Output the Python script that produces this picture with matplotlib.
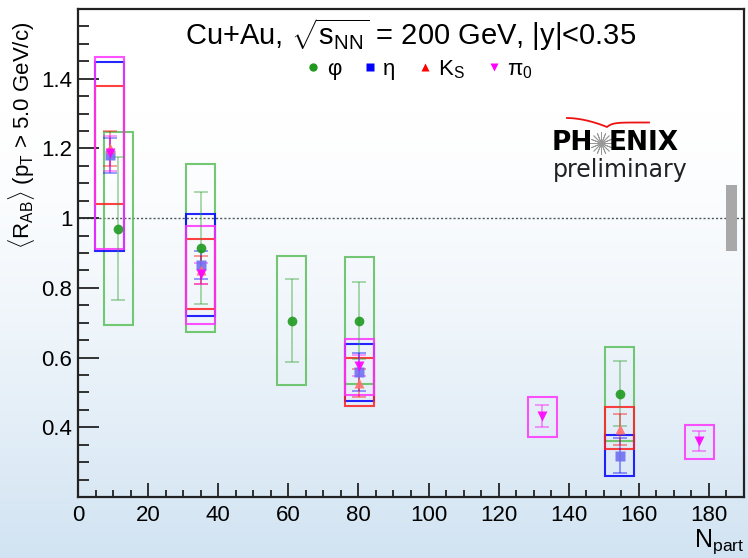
import numpy as np
import matplotlib
matplotlib.use('Agg')
import matplotlib.pyplot as plt
from matplotlib.patches import Rectangle
from matplotlib.lines import Line2D
from matplotlib.ticker import MultipleLocator

plt.rcParams['font.family'] = ['Liberation Sans', 'DejaVu Sans']
plt.rcParams['mathtext.fontset'] = 'custom'
plt.rcParams['mathtext.rm'] = 'Liberation Sans'
plt.rcParams['mathtext.it'] = 'Liberation Sans:italic'
plt.rcParams['mathtext.bf'] = 'Liberation Sans:bold'

# phi
phi_npart = [11.5, 35, 61, 80.3, 154.6]
phi_val = [0.97, 0.915, 0.706, 0.706, 0.496]
phi_stat = [0.205, 0.16, 0.119, 0.11, 0.093]
phi_sys_lo = [0.694, 0.672, 0.52, 0.525, 0.361]
phi_sys_hi = [1.247, 1.154, 0.89, 0.888, 0.631]

# eta
eta_npart = [9.0, 35, 80.3, 154.6]
eta_val = [1.18, 0.866, 0.558, 0.318]
eta_stat = [0.05, 0.04, 0.055, 0.05]
eta_sys_lo = [0.907, 0.718, 0.475, 0.259]
eta_sys_hi = [1.447, 1.011, 0.64, 0.377]

# K_S
ks_npart = [9.0, 35, 80.3, 154.6]
ks_val = [1.20, 0.85, 0.526, 0.394]
ks_stat = [0.05, 0.04, 0.04, 0.045]
ks_sys_lo = [1.04, 0.74, 0.461, 0.337]
ks_sys_hi = [1.38, 0.939, 0.598, 0.458]

# pi0
pi0_npart = [9.0, 35, 80.3, 132.4, 177.2]
pi0_val = [1.186, 0.84, 0.577, 0.433, 0.361]
pi0_stat = [0.05, 0.03, 0.03, 0.031, 0.029]
pi0_sys_lo = [0.911, 0.695, 0.494, 0.372, 0.308]
pi0_sys_hi = [1.462, 0.977, 0.654, 0.487, 0.407]

norm_npart = 186.5
norm_unc = 0.095

box_w = 8.3

fig = plt.figure(figsize=(7.48, 5.58), dpi=100)

# slide background gradient
bg = fig.add_axes([0, 0, 1, 1], zorder=-10)
t = np.linspace(0, 1, 300)
t = np.clip((t - 0.2) / 0.8, 0, 1) ** 1.4
top = np.array([1.0, 1.0, 1.0])
bot = np.array([0.82, 0.89, 0.95])
grad = top[None, :] * (1 - t[:, None]) + bot[None, :] * t[:, None]
bg.imshow(grad[:, None, :], aspect='auto', extent=[0, 1, 0, 1], origin='upper')
bg.axis('off')

ax = fig.add_axes([78/748, 61/558, 666/748, 488/558])
ax.patch.set_alpha(0)

series = [
    (phi_npart, phi_val, phi_stat, phi_sys_lo, phi_sys_hi, '#2ca02c', '#1f9a1f', 'o', 7, '#5cbf5c'),
    (eta_npart, eta_val, eta_stat, eta_sys_lo, eta_sys_hi, '#0000ff', '#7070f0', 's', 6.5, '#0000ff'),
    (ks_npart, ks_val, ks_stat, ks_sys_lo, ks_sys_hi, '#ff0000', '#ff7070', '^', 7.5, '#ff2020'),
    (pi0_npart, pi0_val, pi0_stat, pi0_sys_lo, pi0_sys_hi, '#ff00ff', '#ff00ff', 'v', 7.5, '#ff33ff'),
]

for npart, val, stat, lo, hi, ecol, mcol, mk, ms, bcol in series:
    for x, l, h in zip(npart, lo, hi):
        ax.add_patch(Rectangle((x - box_w/2, l), box_w, h - l, fill=False,
                               edgecolor=bcol, lw=1.5, alpha=0.85, zorder=2))

handles = []
for npart, val, stat, lo, hi, ecol, mcol, mk, ms, bcol in series:
    ax.errorbar(npart, val, yerr=stat, fmt='none', ecolor=ecol, elinewidth=1.2,
                capsize=5, capthick=1.2, alpha=0.45, zorder=3)
    ax.plot(npart, val, ls='none', marker=mk, ms=ms, color=mcol, mec='none',
            alpha=0.9, zorder=4)
    handles.append(Line2D([], [], ls='none', marker=mk, ms=6, color=ecol if mk != 'o' else '#1f9a1f', mec='none'))

# global normalization
ax.add_patch(Rectangle((norm_npart - 1.5, 1 - norm_unc), 3, 2 * norm_unc,
                       facecolor='#a8a8a8', edgecolor='none', zorder=2))

ax.axhline(1, color='#555555', ls=(0, (1.5, 1.5)), lw=1, zorder=1)

ax.set_xlim(0, 190)
ax.set_ylim(0.2, 1.6)
ax.xaxis.set_major_locator(MultipleLocator(20))
ax.xaxis.set_minor_locator(MultipleLocator(5))
ax.yaxis.set_major_locator(MultipleLocator(0.2))
ax.yaxis.set_minor_locator(MultipleLocator(0.05))
ax.set_yticks([0.4, 0.6, 0.8, 1.0, 1.2, 1.4])
ax.set_yticklabels(['0.4', '0.6', '0.8', '1', '1.2', '1.4'])
ax.tick_params(axis='both', which='both', direction='in', top=False, right=False,
               labelsize=16, width=1.3, color='#222222')
ax.tick_params(axis='x', which='major', length=10, pad=6)
ax.tick_params(axis='x', which='minor', length=5)
ax.tick_params(axis='y', which='major', length=15, pad=4)
ax.tick_params(axis='y', which='minor', length=8)
for s in ax.spines.values():
    s.set_linewidth(1.6)
    s.set_color('#222222')

ax.text(0.5, 0.947, r'Cu+Au, $\sqrt{\mathrm{s_{NN}}}$ = 200 GeV, |y|<0.35',
        transform=ax.transAxes, ha='center', va='center', fontsize=21)

ax.legend(handles, ['φ', 'η', r'K$_\mathrm{S}$', r'π$_0$'], ncol=4, loc='center',
          bbox_to_anchor=(0.513, 0.876), frameon=False, fontsize=16,
          handlelength=0.6, handletextpad=0.3, columnspacing=1.0, borderpad=0)

fig.text(22/748, 1 - 135/558, r'$\langle$R$_\mathrm{AB}\rangle$ (p$_\mathrm{T}$ > 5.0 GeV/c)',
         rotation=90, ha='center', va='center', fontsize=16)
fig.text(744/748, 2/558, r'N$_\mathrm{part}$', ha='right', va='bottom', fontsize=18)

# PHENIX logo
fig.text(593/748, 1 - 143/558, 'PH', ha='right', va='center', fontsize=19,
         fontweight='bold', family='DejaVu Sans')
fig.text(609/748, 1 - 143/558, 'ENIX', ha='left', va='center', fontsize=19,
         fontweight='bold', family='DejaVu Sans')
fig.text(620/748, 1 - 170/558, 'preliminary', ha='center', va='center', fontsize=17,
         family='DejaVu Sans', color='#222222')
star = Line2D([601/748], [1 - 143/558], transform=fig.transFigure, marker=(16, 2, 0),
              ms=16, mew=0.6, color='#999999')
fig.add_artist(star)
left_x = np.linspace(567, 607, 30)
left_y = 118 + 9 * ((left_x - 567) / 40) ** 1.8
right_x = np.linspace(607, 649, 30)
right_y = 127 - 4.5 * (1 - np.exp(-(right_x - 607) / 5))
arc_x = np.concatenate([left_x, right_x])
arc_y = np.concatenate([left_y, right_y])
fig.add_artist(Line2D(arc_x / 748, 1 - arc_y / 558, transform=fig.transFigure,
                      color='#ee1111', lw=1.3))

fig.savefig('out.png', dpi=100)
